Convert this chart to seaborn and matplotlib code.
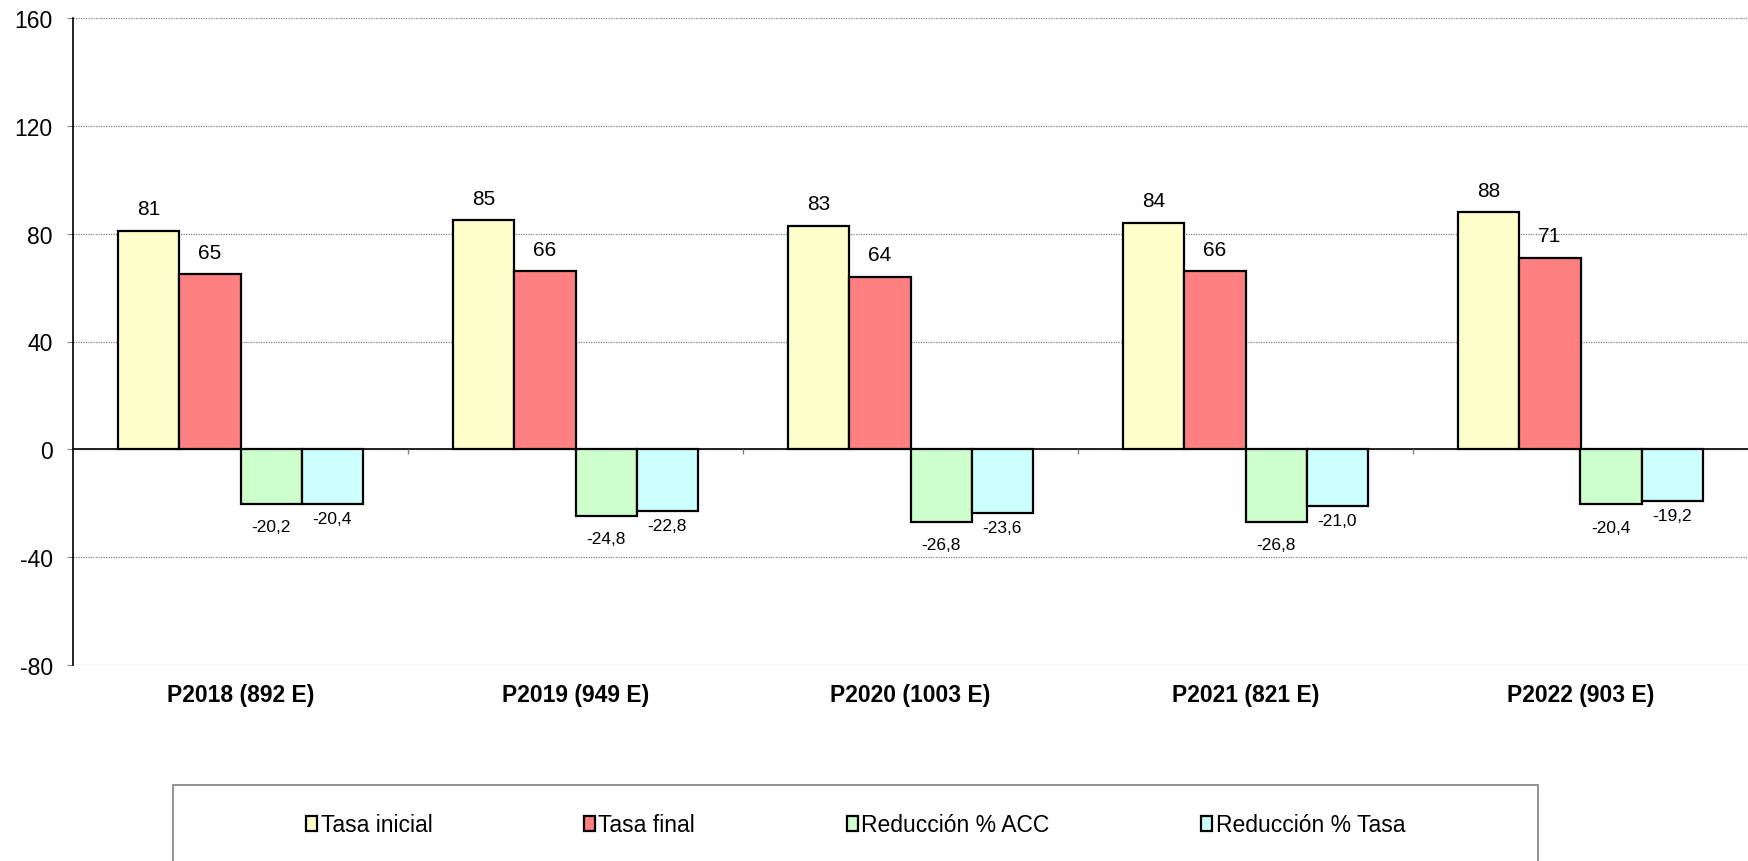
import pandas as pd
import matplotlib.pyplot as plt
import seaborn as sns
from matplotlib.patches import Rectangle

# Data
periodos = ['P2018 (892 E)', 'P2019 (949 E)', 'P2020 (1003 E)', 'P2021 (821 E)', 'P2022 (903 E)']
series = ['Tasa inicial', 'Tasa final', 'Reducción % ACC', 'Reducción % Tasa']
tasa_inicial = [81, 85, 83, 84, 88]
tasa_final = [65, 66, 64, 66, 71]
reduccion_acc = [-20.2, -24.8, -26.8, -26.8, -20.4]
reduccion_tasa = [-20.4, -22.8, -23.6, -21.0, -19.2]
colores = ['#FFFFCC', '#FF8080', '#CCFFCC', '#CCFFFF']
y_ticks = [-80, -40, 0, 40, 80, 120, 160]


def main():
    valores = [tasa_inicial, tasa_final, reduccion_acc, reduccion_tasa]
    rows = []
    for s, vals in zip(series, valores):
        for p, v in zip(periodos, vals):
            rows.append({'periodo': p, 'serie': s, 'valor': v})
    df = pd.DataFrame(rows)

    sns.set_style("white")
    plt.rcParams['font.family'] = ['Liberation Sans', 'DejaVu Sans']
    plt.rcParams['axes.unicode_minus'] = False
    plt.rcParams['text.color'] = 'black'

    fig = plt.figure(figsize=(17.48, 8.62), dpi=100)
    ax = fig.add_axes([73 / 1748, 1 - 666 / 862, 1 - 73 / 1748, (666 - 19) / 862])

    sns.barplot(data=df, x='periodo', y='valor', hue='serie', order=periodos,
                hue_order=series, palette=colores, edgecolor='black', linewidth=1.6,
                width=0.73, gap=0, dodge=True, ax=ax, errorbar=None, saturation=1)

    # value labels (comma as decimal separator)
    for i, cont in enumerate(ax.containers):
        vals = valores[i]
        if i < 2:
            labels = [f"{v:.0f}" for v in vals]
            ax.bar_label(cont, labels=labels, padding=9, fontsize=15, color='black')
        else:
            labels = [f"{v:.1f}".replace('.', ',') for v in vals]
            ax.bar_label(cont, labels=labels, padding=11 if i == 2 else 5,
                         fontsize=12.5, color='black')

    ax.set_ylim(-80, 160)
    ax.set_xlim(-0.5, 4.5)
    ax.set_yticks(y_ticks)
    ax.yaxis.grid(True, linestyle=(0, (1, 1)), color='#808080', linewidth=0.9)
    ax.set_axisbelow(True)
    ax.axhline(0, color='black', linewidth=1.2, zorder=1)
    ax.vlines([0.5, 1.5, 2.5, 3.5], -1.8, 0, color='#808080', linewidth=1)

    for s in ['top', 'right', 'bottom']:
        ax.spines[s].set_visible(False)
    ax.spines['left'].set_color('black')
    ax.spines['left'].set_linewidth(1.2)

    ax.tick_params(axis='y', length=4.5, width=0.8, color='#808080', pad=10,
                   labelsize=16.5, labelcolor='black', left=True)
    ax.tick_params(axis='x', length=0, pad=13, labelsize=16.5, labelcolor='black')
    for lab in ax.get_xticklabels():
        lab.set_fontweight('bold')
    ax.set_xlabel('')
    ax.set_ylabel('')

    handles, labels = ax.get_legend_handles_labels()
    ax.get_legend().remove()
    fig.legend(handles, labels, loc='center', bbox_to_anchor=(855.5 / 1748, 36 / 862),
               ncol=4, frameon=False, fontsize=16.5, handlelength=0.5, handleheight=0.65,
               handletextpad=0.15, columnspacing=6.6)
    fig.patches.append(Rectangle((173 / 1748, -0.02), (1538 - 173) / 1748, (862 - 786) / 862 + 0.02,
                                 transform=fig.transFigure, fill=False, edgecolor='#808080',
                                 linewidth=1.2))

    fig.savefig('out.png', dpi=100)
    plt.close(fig)


if __name__ == "__main__":
    main()
